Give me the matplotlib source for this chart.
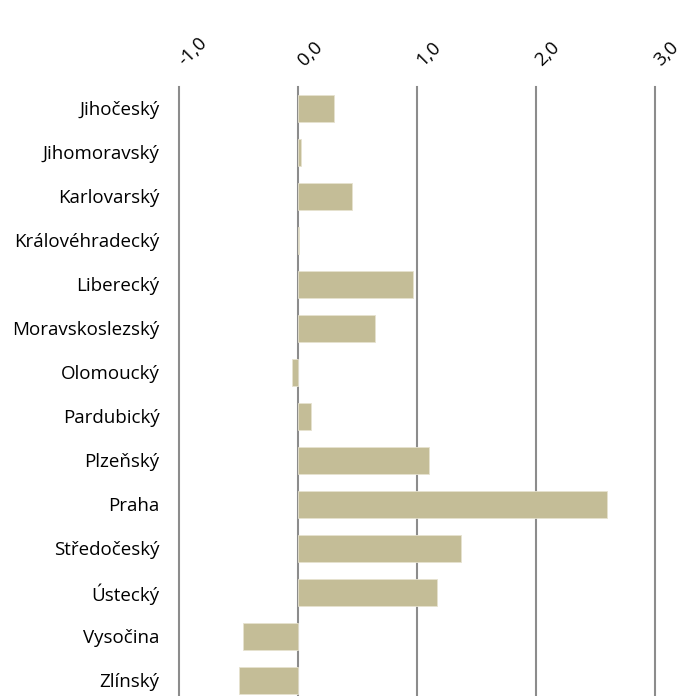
import matplotlib.pyplot as plt
import matplotlib.transforms as mtransforms
import numpy as np

plt.rcParams['font.family'] = ['Open Sans', 'DejaVu Sans']

# kraje a hodnoty
kraje = ['Jihočeský', 'Jihomoravský', 'Karlovarský', 'Královéhradecký', 'Liberecký',
         'Moravskoslezský', 'Olomoucký', 'Pardubický', 'Plzeňský', 'Praha',
         'Středočeský', 'Ústecký', 'Vysočina', 'Zlínský']
hodnoty = [0.30, 0.025, 0.45, 0.005, 0.97, 0.65, -0.05, 0.11, 1.10, 2.60,
           1.37, 1.17, -0.46, -0.50]
ticks = [-1.0, 0.0, 1.0, 2.0, 3.0]
tick_labels = ['-1,0', '0,0', '1,0', '2,0', '3,0']

fig = plt.figure(figsize=(6.9, 6.96), dpi=100)
ax = fig.add_axes([179/690, 0.0, 476/690, 1 - 87/696])

y = np.arange(len(kraje))
ax.barh(y, hodnoty, height=0.61, color='#C4BD97', edgecolor='#E6E2CF', linewidth=0.6, zorder=2)

# svisle mrizky, i na okrajich
for t in ticks:
    ax.axvline(t, color='#8C8C8C', linewidth=1.5, zorder=0, clip_on=False)

ax.set_xlim(-1, 3)
ax.set_ylim(13.36, -0.48)
ax.set_xticks(ticks)
ax.set_xticklabels(tick_labels, rotation=45, ha='left', va='bottom',
                   rotation_mode='anchor', fontsize=13.5)
ax.xaxis.tick_top()
ax.tick_params(axis='x', length=0, pad=13)
posun = mtransforms.ScaledTranslation(9/100, 0, fig.dpi_scale_trans)
for lbl in ax.get_xticklabels():
    lbl.set_transform(lbl.get_transform() + posun)
ax.set_yticks(y)
ax.set_yticklabels(kraje, fontsize=13.5)
ax.tick_params(axis='y', length=0, pad=14)

for s in ax.spines.values():
    s.set_visible(False)

plt.savefig('out.png', dpi=100)
